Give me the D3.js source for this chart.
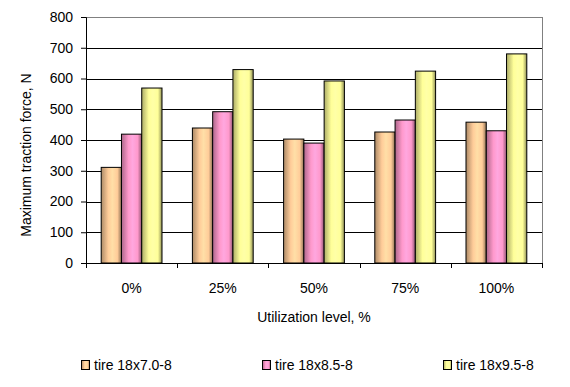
<!DOCTYPE html>
<html>
<head>
<meta charset="utf-8">
<script src="https://cdn.jsdelivr.net/npm/d3@7"></script>
<style>
  body { margin: 0; background: #fff; }
  text { font-family: "Liberation Sans", Arial, sans-serif; fill: #000; }
</style>
</head>
<body>
<div id="chart"></div>
<script>
// data
var categories = ["0%", "25%", "50%", "75%", "100%"];
var seriesNames = ["tire 18x7.0-8", "tire 18x8.5-8", "tire 18x9.5-8"];
var tire70 = [311, 439, 403, 426, 458];
var tire85 = [419, 492, 390, 465, 430];
var tire95 = [569, 629, 592, 624, 680];
var yTicks = [0, 100, 200, 300, 400, 500, 600, 700, 800];

var seriesValues = [tire70, tire85, tire95];
var colors = ["#FFCC99", "#FF99CC", "#FFFF99"];

var width = 570,
    height = 387;
var margin = {top: 17, right: 28, bottom: 124, left: 86};
var plotW = width - margin.left - margin.right,
    plotH = height - margin.top - margin.bottom;
var fontSize = "14px";

var svg = d3.select("#chart").append("svg")
    .attr("width", width)
    .attr("height", height);

// shaded bar fills, dark edges and a light band
var defs = svg.append("defs");
colors.forEach(function (c, i) {
    var base = d3.color(c);
    var g = defs.append("linearGradient")
        .attr("id", "shade" + i)
        .attr("x1", "0%").attr("x2", "100%")
        .attr("y1", "0%").attr("y2", "0%");
    g.append("stop").attr("offset", "0%").attr("stop-color", base.darker(1.1));
    g.append("stop").attr("offset", "35%").attr("stop-color", base);
    g.append("stop").attr("offset", "55%").attr("stop-color", base.brighter(0.25));
    g.append("stop").attr("offset", "80%").attr("stop-color", base);
    g.append("stop").attr("offset", "100%").attr("stop-color", base.darker(1.6));
});

var plot = svg.append("g")
    .attr("transform", "translate(" + margin.left + "," + margin.top + ")");

var x0 = d3.scaleBand()
    .domain(categories)
    .range([0, plotW])
    .paddingInner(0)
    .paddingOuter(0);

// bars take 60/91 of each category (Excel gap width 50%)
var x1 = d3.scaleBand()
    .domain(d3.range(seriesNames.length))
    .range([x0.bandwidth() / 6, x0.bandwidth() * 5 / 6]);

var y = d3.scaleLinear()
    .domain([0, 800])
    .range([plotH, 0]);

// gridlines
plot.append("g")
    .selectAll("line")
    .data(yTicks.slice(1))
    .enter().append("line")
    .attr("x1", 0)
    .attr("x2", plotW)
    .attr("y1", function (d) { return Math.round(y(d)) + 0.5; })
    .attr("y2", function (d) { return Math.round(y(d)) + 0.5; })
    .attr("stroke", function (d) { return d == 800 ? "#808080" : "#000"; })
    .attr("stroke-width", 1);

// right border of plot area
plot.append("line")
    .attr("x1", plotW + 0.5).attr("x2", plotW + 0.5)
    .attr("y1", 0).attr("y2", plotH)
    .attr("stroke", "#808080");

// bars
var groups = plot.append("g")
    .selectAll("g")
    .data(categories)
    .enter().append("g")
    .attr("transform", function (d) { return "translate(" + x0(d) + ",0)"; });

groups.selectAll("rect")
    .data(function (d, ci) {
        return seriesValues.map(function (vals, si) {
            return {series: si, value: vals[ci]};
        });
    })
    .enter().append("rect")
    .attr("x", function (d) { return x1(d.series); })
    .attr("y", function (d) { return y(d.value); })
    .attr("width", x1.bandwidth())
    .attr("height", function (d) { return plotH - y(d.value); })
    .attr("fill", function (d) { return "url(#shade" + d.series + ")"; })
    .attr("stroke", "#000")
    .attr("stroke-width", 1);

// y axis
var yAxis = plot.append("g")
    .call(d3.axisLeft(y).tickValues(yTicks).tickSize(5).tickPadding(8));
yAxis.select(".domain").attr("stroke", "#000");
yAxis.selectAll("text")
    .style("font-size", fontSize)
    .style("font-family", "Liberation Sans, Arial, sans-serif");

// x axis, ticks at category boundaries
plot.append("line")
    .attr("x1", 0).attr("x2", plotW)
    .attr("y1", plotH + 0.5).attr("y2", plotH + 0.5)
    .attr("stroke", "#000");

plot.append("g")
    .selectAll("line")
    .data(d3.range(categories.length + 1))
    .enter().append("line")
    .attr("x1", function (i) { return Math.round(i * x0.bandwidth()) + 0.5; })
    .attr("x2", function (i) { return Math.round(i * x0.bandwidth()) + 0.5; })
    .attr("y1", plotH)
    .attr("y2", plotH + 5)
    .attr("stroke", "#000");

plot.append("g")
    .selectAll("text")
    .data(categories)
    .enter().append("text")
    .attr("x", function (d) { return x0(d) + x0.bandwidth() / 2; })
    .attr("y", plotH + 30)
    .attr("text-anchor", "middle")
    .style("font-size", fontSize)
    .text(function (d) { return d; });

// axis titles
svg.append("text")
    .attr("x", margin.left + plotW / 2)
    .attr("y", 322)
    .attr("text-anchor", "middle")
    .style("font-size", fontSize)
    .text("Utilization level, %");

svg.append("text")
    .attr("transform", "translate(31,155) rotate(-90)")
    .attr("text-anchor", "middle")
    .style("font-size", fontSize)
    .text("Maximum traction force, N");

// legend
var legendX = [81, 262, 443];
var legend = svg.append("g")
    .selectAll("g")
    .data(seriesNames)
    .enter().append("g")
    .attr("transform", function (d, i) { return "translate(" + legendX[i] + ",360)"; });

legend.append("rect")
    .attr("x", 0.5).attr("y", 0.5)
    .attr("width", 8).attr("height", 9)
    .attr("fill", function (d, i) { return "url(#shade" + i + ")"; })
    .attr("stroke", "#000");

legend.append("text")
    .attr("x", 13)
    .attr("y", 10)
    .style("font-size", fontSize)
    .text(function (d) { return d; });
</script>
</body>
</html>
